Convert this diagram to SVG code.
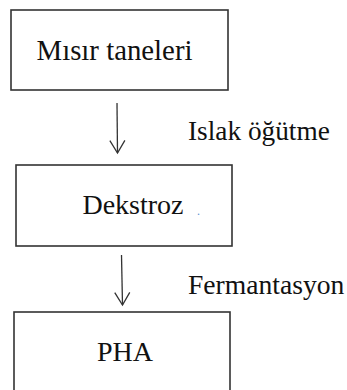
<svg xmlns="http://www.w3.org/2000/svg" width="347" height="390" viewBox="0 0 347 390">
  <defs>
    <marker id="vhead" markerUnits="userSpaceOnUse" markerWidth="16" markerHeight="18" viewBox="-14 -9 16 18" refX="0" refY="0" orient="auto" overflow="visible">
      <path d="M -12.5 -7.5 L 0 0 L -12.5 7.5" fill="none" stroke="#333333" stroke-width="1.3"/>
    </marker>
    <style>
      .box { fill: #ffffff; stroke: #333333; stroke-width: 1.6; }
      .lbl { font-family: 'Liberation Serif', 'Times New Roman', 'DejaVu Serif', serif; fill: #111111; }
      .edge { fill: none; stroke: #333333; stroke-width: 1.3; }
    </style>
  </defs>
  <rect width="347" height="390" fill="#ffffff"/>
  <g id="node-misir">
    <rect class="box" x="11" y="10" width="217" height="80"/>
    <text class="lbl" font-family="Liberation Serif, serif" font-size="28.8" x="114.5" y="60" text-anchor="middle">Mısır taneleri</text>
  </g>
  <g id="node-dekstroz">
    <rect class="box" x="16" y="165" width="216" height="81"/>
    <text class="lbl" font-family="Liberation Serif, serif" font-size="28" x="133" y="214" text-anchor="middle">Dekstroz</text>
    <text font-family="Liberation Serif, serif" font-size="12" x="197" y="215" fill="#5b8fd0">.</text>
  </g>
  <g id="node-pha">
    <rect class="box" x="14" y="312" width="216" height="100"/>
    <text class="lbl" font-family="Liberation Serif, serif" font-size="28" x="125" y="361" text-anchor="middle">PHA</text>
  </g>
  <g id="connectors">
    <line class="edge" x1="117" y1="103" x2="117.5" y2="153" marker-end="url(#vhead)"/>
    <text class="lbl" font-family="Liberation Serif, serif" font-size="27.3" x="188" y="140">Islak öğütme</text>
    <line class="edge" x1="121.5" y1="255" x2="122.5" y2="305" marker-end="url(#vhead)"/>
    <text class="lbl" font-family="Liberation Serif, serif" font-size="27.6" x="188" y="294">Fermantasyon</text>
  </g>
</svg>
